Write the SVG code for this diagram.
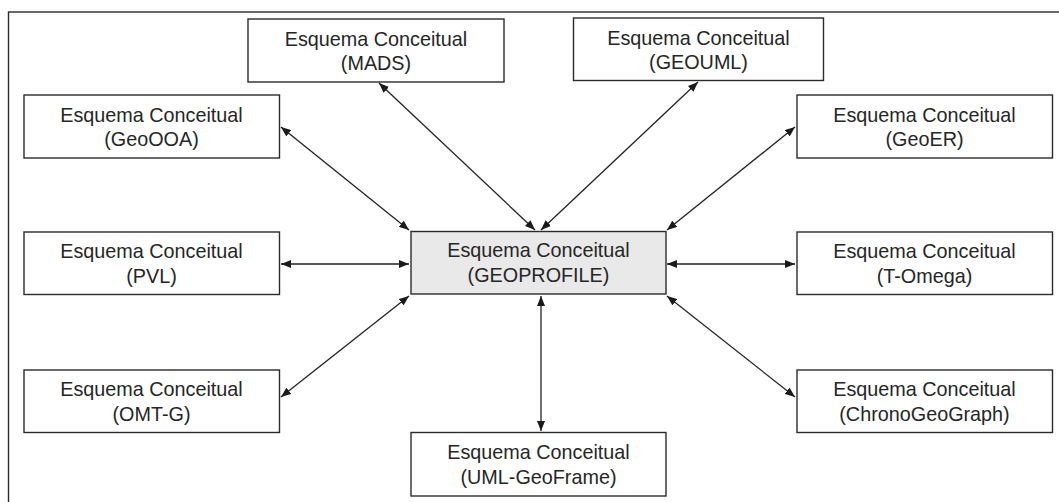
<svg xmlns="http://www.w3.org/2000/svg" width="1059" height="502" viewBox="0 0 1059 502">
  <style>
    .box { fill: #ffffff; stroke: #2b2b2b; stroke-width: 1.4; }
    .hub { fill: #e9e9e9; stroke: #2b2b2b; stroke-width: 1.4; }
    .lbl { font-family: "Liberation Sans", Arial, sans-serif; font-size: 19.8px; fill: #262626; text-anchor: middle; }
    .link { stroke: #222222; stroke-width: 1.3; fill: none; marker-start: url(#head); marker-end: url(#head); }
  </style>
  <defs>
    <marker id="head" viewBox="0 0 10 8" refX="10" refY="4" markerWidth="10" markerHeight="8" markerUnits="userSpaceOnUse" orient="auto-start-reverse">
      <path d="M0,0 L10,4 L0,8 Z" fill="#1a1a1a"/>
    </marker>
  </defs>

  <rect width="1059" height="502" fill="#ffffff"/>
  <!-- outer frame, right and bottom edges fall outside the canvas -->
  <rect x="8.5" y="12" width="1100" height="600" fill="none" stroke="#2b2b2b" stroke-width="1.4"/>

  <g id="connectors">
    <line class="link" x1="281" y1="127" x2="409" y2="230"/>
    <line class="link" x1="379" y1="83" x2="535" y2="230"/>
    <line class="link" x1="698" y1="82" x2="541" y2="230"/>
    <line class="link" x1="795" y1="127" x2="667" y2="230"/>
    <line class="link" x1="281" y1="264" x2="409" y2="264"/>
    <line class="link" x1="667" y1="264" x2="795" y2="264"/>
    <line class="link" x1="281" y1="397" x2="409" y2="296"/>
    <line class="link" x1="795" y1="397" x2="667" y2="296"/>
    <line class="link" x1="541" y1="296" x2="541" y2="431"/>
  </g>

  <g id="geoprofile">
    <rect class="hub" x="411" y="231.5" width="255" height="62.5"/>
    <text class="lbl" x="538.5" y="257">Esquema Conceitual</text>
    <text class="lbl" x="538.5" y="282">(GEOPROFILE)</text>
  </g>

  <g id="mads">
    <rect class="box" x="248" y="19" width="256" height="63"/>
    <text class="lbl" x="376" y="45.5">Esquema Conceitual</text>
    <text class="lbl" x="376" y="69.5">(MADS)</text>
  </g>

  <g id="geouml">
    <rect class="box" x="573.5" y="18" width="250" height="62.5"/>
    <text class="lbl" x="698.5" y="44.5">Esquema Conceitual</text>
    <text class="lbl" x="698.5" y="68.5">(GEOUML)</text>
  </g>

  <g id="geoooa">
    <rect class="box" x="24" y="95" width="255.5" height="63"/>
    <text class="lbl" x="151.5" y="121.5">Esquema Conceitual</text>
    <text class="lbl" x="151.5" y="146">(GeoOOA)</text>
  </g>

  <g id="geoer">
    <rect class="box" x="797" y="95" width="255.5" height="63"/>
    <text class="lbl" x="924.5" y="121.5">Esquema Conceitual</text>
    <text class="lbl" x="924.5" y="146">(GeoER)</text>
  </g>

  <g id="pvl">
    <rect class="box" x="24" y="232" width="255.5" height="62.5"/>
    <text class="lbl" x="151.5" y="258">Esquema Conceitual</text>
    <text class="lbl" x="151.5" y="282.5">(PVL)</text>
  </g>

  <g id="t-omega">
    <rect class="box" x="797" y="232" width="255.5" height="62.5"/>
    <text class="lbl" x="924.5" y="258">Esquema Conceitual</text>
    <text class="lbl" x="924.5" y="282.5">(T-Omega)</text>
  </g>

  <g id="omt-g">
    <rect class="box" x="24" y="370" width="255.5" height="62.5"/>
    <text class="lbl" x="151.5" y="396">Esquema Conceitual</text>
    <text class="lbl" x="151.5" y="420.5">(OMT-G)</text>
  </g>

  <g id="chronogeograph">
    <rect class="box" x="797" y="370" width="255.5" height="62.5"/>
    <text class="lbl" x="924.5" y="396">Esquema Conceitual</text>
    <text class="lbl" x="924.5" y="420.5">(ChronoGeoGraph)</text>
  </g>

  <g id="uml-geoframe">
    <rect class="box" x="411" y="432.5" width="255" height="63.5"/>
    <text class="lbl" x="538.5" y="459">Esquema Conceitual</text>
    <text class="lbl" x="538.5" y="483.5">(UML-GeoFrame)</text>
  </g>
</svg>
